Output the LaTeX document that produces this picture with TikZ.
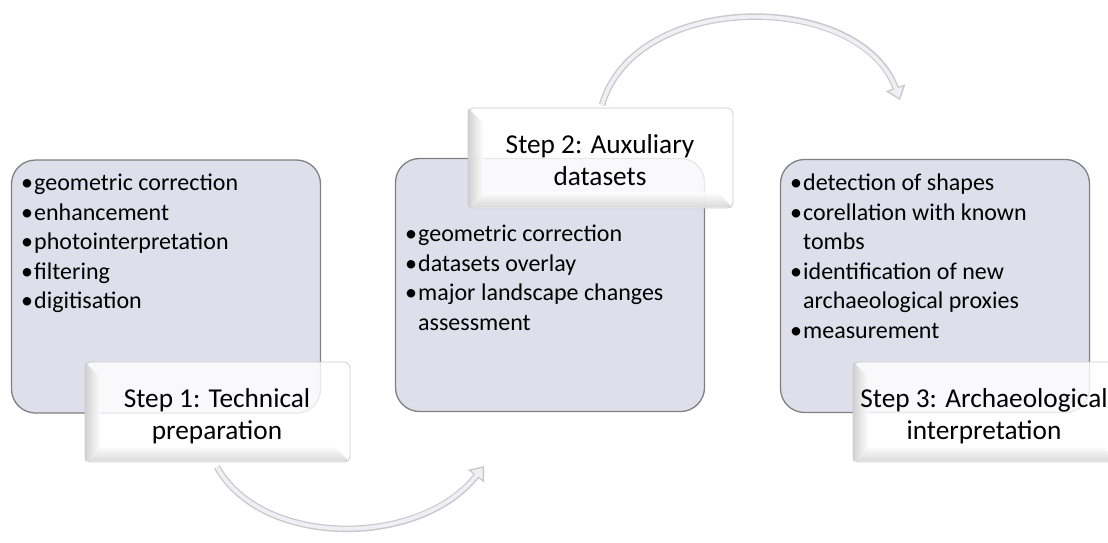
\documentclass[tikz,border=0pt]{standalone}
\usepackage{fontspec}
\setmainfont{Carlito}
\usetikzlibrary{arrows.meta,calc}
\definecolor{boxfill}{RGB}{223,223,236}
\definecolor{boxline}{RGB}{128,128,128}
\definecolor{arrowfill}{RGB}{240,240,244}
\definecolor{arrowline}{RGB}{200,200,206}
\tikzset{
  bigbox/.style={draw=boxline, line width=1.3pt, rounded corners=24pt, fill=boxfill,
    minimum width=309pt, minimum height=253pt, inner sep=0pt},
  labelbox/.style={draw=gray!40, line width=0.8pt, rounded corners=6pt, fill=white,
    fill opacity=0.82, minimum width=265pt, minimum height=100pt, inner sep=0pt},
  labeltext/.style={align=center, inner sep=0pt, font=\fontsize{27.3}{32}\selectfont},
  items/.style={anchor=north west, align=left, inner sep=0pt,
    font=\fontsize{24}{29.5}\selectfont},
  arrowout/.style={line width=6.5pt, draw=arrowline, -{Triangle[length=13pt,width=20pt,fill=arrowline]}},
  arrowin/.style={line width=3.8pt, draw=arrowfill, shorten >=2.2pt, -{Triangle[length=9.5pt,width=14pt,fill=arrowfill]}},
}
\newcommand{\bl}{\makebox[13pt][l]{•}}
\newcommand{\hg}{\hspace*{13pt}}
\newcommand{\bevel}[1]{%
  \shade[left color=gray!40, right color=white, opacity=0.85]
    ($(#1.north west)+(1,1)$) -- ($(#1.north west)+(16,16)$) -- ($(#1.south west)+(16,-16)$) -- ($(#1.south west)+(1,-1)$) -- cycle;
  \shade[top color=white, bottom color=gray!35, opacity=0.85]
    ($(#1.south west)+(1,-1)$) -- ($(#1.south west)+(16,-16)$) -- ($(#1.south east)+(-16,-16)$) -- ($(#1.south east)+(-1,-1)$) -- cycle;
}
\begin{document}
\begin{tikzpicture}[x=1pt,y=-1pt]
\useasboundingbox (0,0) rectangle (1108,542);
\begin{scope}
\clip (0,0) rectangle (1108,542);
% big boxes
\node[bigbox] (B1) at (166,286.5) {};
\node[bigbox] (B2) at (550,285) {};
\node[bigbox] (B3) at (935,286) {};
% box texts
\node[items] (T1) at (21,174) {\bl geometric correction\\ \bl enhancement\\ \bl photointerpretation\\ \bl filtering\\ \bl digitisation};
\node[items] (T2) at (405,225) {\bl geometric correction\\ \bl datasets overlay\\ \bl major landscape changes\\ \hg assessment};
\node[items] (T3) at (790,174) {\bl detection of shapes\\ \bl corellation with known\\ \hg tombs\\ \bl identification of new\\ \hg archaeological proxies\\ \bl measurement};
% labels
\node[labelbox] (L1) at (217.5,412) {};
\bevel{L1}
\node[labelbox] (L2) at (600.5,158) {};
\bevel{L2}
\node[labelbox] (L3) at (985.5,412) {};
\bevel{L3}
\node[labeltext] (S1) at (217,416) {Step 1: Technical\\preparation};
\node[labeltext] (S2) at (600,160) {Step 2: Auxuliary\\datasets};
\node[labeltext] (S3) at (984,416) {Step 3: Archaeological\\interpretation};
% arrows
\coordinate (a1s) at (217,467);
\coordinate (a1e) at (484,466);
\coordinate (a2s) at (602,105);
\coordinate (a2e) at (900,100);
\draw[arrowout] (a1s) .. controls (262,548) and (420,548) .. (a1e);
\draw[arrowin] (a1s) .. controls (262,548) and (420,548) .. (a1e);
\draw[arrowout] (a2s) .. controls (635,-10) and (860,-10) .. (a2e);
\draw[arrowin] (a2s) .. controls (635,-10) and (860,-10) .. (a2e);
\end{scope}
\end{tikzpicture}
\end{document}
